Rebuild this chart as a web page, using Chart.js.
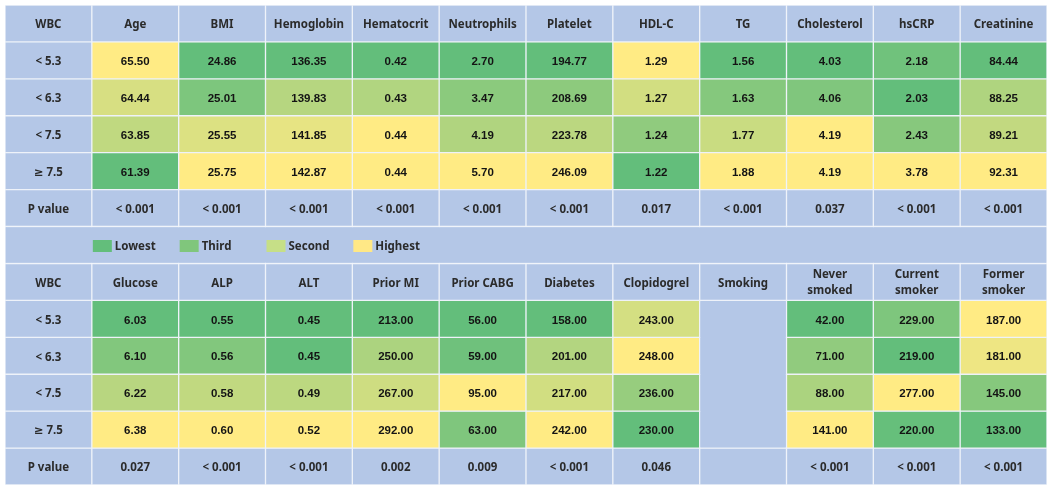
<!DOCTYPE html>
<html>
<head>
<meta charset="utf-8">
<script src="https://cdn.jsdelivr.net/npm/chart.js@4/dist/chart.umd.min.js"></script>
<style>
  html, body { margin: 0; padding: 0; background: #fff; }
  canvas { display: block; }
</style>
</head>
<body>
<canvas id="heat" width="1053" height="489"></canvas>
<script>
// WBC groups (row labels)
const groups = ['< 5.3', '< 6.3', '< 7.5', '≥ 7.5'];

// upper table
const topVars = ['Age', 'BMI', 'Hemoglobin', 'Hematocrit', 'Neutrophils', 'Platelet', 'HDL-C', 'TG', 'Cholesterol', 'hsCRP', 'Creatinine'];
const top53 = [65.50, 24.86, 136.35, 0.42, 2.70, 194.77, 1.29, 1.56, 4.03, 2.18, 84.44];
const top63 = [64.44, 25.01, 139.83, 0.43, 3.47, 208.69, 1.27, 1.63, 4.06, 2.03, 88.25];
const top75 = [63.85, 25.55, 141.85, 0.44, 4.19, 223.78, 1.24, 1.77, 4.19, 2.43, 89.21];
const topHi = [61.39, 25.75, 142.87, 0.44, 5.70, 246.09, 1.22, 1.88, 4.19, 3.78, 92.31];
const topP = ['< 0.001', '< 0.001', '< 0.001', '< 0.001', '< 0.001', '< 0.001', '0.017', '< 0.001', '0.037', '< 0.001', '< 0.001'];

// lower table (Smoking is only a group heading, no values)
const bottomVars = ['Glucose', 'ALP', 'ALT', 'Prior MI', 'Prior CABG', 'Diabetes', 'Clopidogrel', 'Smoking', ['Never', 'smoked'], ['Current', 'smoker'], ['Former', 'smoker']];
const bot53 = [6.03, 0.55, 0.45, 213, 56, 158, 243, null, 42, 229, 187];
const bot63 = [6.10, 0.56, 0.45, 250, 59, 201, 248, null, 71, 219, 181];
const bot75 = [6.22, 0.58, 0.49, 267, 95, 217, 236, null, 88, 277, 145];
const botHi = [6.38, 0.60, 0.52, 292, 63, 242, 230, null, 141, 220, 133];
const bottomP = ['0.027', '< 0.001', '< 0.001', '0.002', '0.009', '< 0.001', '0.046', '', '< 0.001', '< 0.001', '< 0.001'];

const legendNames = ['Lowest', 'Third', 'Second', 'Highest'];
const legendColors = ['#63BE7B', '#80C67C', '#C6DF87', '#FFE886'];

const BLUE = '#B4C7E7';
const LINE = '#EEF2F9';
const LOW = [99, 190, 123];
const HIGH = [255, 235, 132];

function scaleColor(v, lo, hi) {
  const t = hi === lo ? 0 : (v - lo) / (hi - lo);
  const c = LOW.map((a, i) => Math.round(a + (HIGH[i] - a) * t));
  return 'rgb(' + c.join(',') + ')';
}

function fmt(v) { return v.toFixed(2); }

// build the 13 x 12 grid of cells
const cells = [];
function headerRow(vars) {
  return [{ text: 'WBC', fill: BLUE, head: true }].concat(vars.map(v => ({ text: v, fill: BLUE, head: true })));
}
function valueRows(rows) {
  const out = rows.map((vals, g) => [{ text: groups[g], fill: BLUE, head: true }]);
  for (let c = 0; c < rows[0].length; c++) {
    const col = rows.map(r => r[c]);
    if (col[0] === null) {
      out.forEach(row => row.push({ text: '', fill: BLUE }));
      continue;
    }
    const lo = Math.min(...col), hi = Math.max(...col);
    col.forEach((v, g) => out[g].push({ text: fmt(v), fill: scaleColor(v, lo, hi) }));
  }
  return out;
}
function pRow(ps) {
  return [{ text: 'P value', fill: BLUE, head: true }].concat(ps.map(p => ({ text: p, fill: BLUE, head: true })));
}

cells.push(headerRow(topVars));
valueRows([top53, top63, top75, topHi]).forEach(r => cells.push(r));
cells.push(pRow(topP));
cells.push(new Array(12).fill(0).map(() => ({ text: '', fill: BLUE })));
cells.push(headerRow(bottomVars));
valueRows([bot53, bot63, bot75, botHi]).forEach(r => cells.push(r));
cells.push(pRow(bottomP));

const LEGEND_ROW = 6;
const SMOKING_COL = 8;

function borders(r, c) {
  const b = { top: 1, right: 1, bottom: 1, left: 1 };
  if (r === LEGEND_ROW) {
    if (c > 0) b.left = 0;
    if (c < 11) b.right = 0;
  }
  if (c === SMOKING_COL && r >= 8 && r <= 11) {
    if (r > 8) b.top = 0;
    if (r < 11) b.bottom = 0;
  }
  return b;
}

const datasets = cells.map((row, r) => ({
  data: row.map(() => 1),
  backgroundColor: row.map(cell => cell.fill),
  borderColor: LINE,
  borderWidth: ctx => borders(r, ctx.dataIndex),
  borderSkipped: false,
  stack: 'grid',
  barPercentage: 1,
  categoryPercentage: 1
}));

const HEAD_FONT = 'bold 11.5px "Noto Sans", "DejaVu Sans", sans-serif';
const NUM_FONT = 'bold 11.5px "Liberation Sans", Arial, sans-serif';

function barBox(bar) {
  const top = Math.min(bar.y, bar.base), bottom = Math.max(bar.y, bar.base);
  return { left: bar.x - bar.width / 2, right: bar.x + bar.width / 2, top, bottom };
}

const cellText = {
  id: 'cellText',
  afterDatasetsDraw(chart) {
    const ctx = chart.ctx;
    ctx.save();

    // merged cells: cover the seams between neighbouring bars
    ctx.fillStyle = BLUE;
    const lrow = chart.getDatasetMeta(LEGEND_ROW).data;
    const a = barBox(lrow[0]), b = barBox(lrow[lrow.length - 1]);
    ctx.fillRect(a.left + 1, a.top + 1, b.right - a.left - 2, a.bottom - a.top - 2);
    const s1 = barBox(chart.getDatasetMeta(8).data[SMOKING_COL]);
    const s2 = barBox(chart.getDatasetMeta(11).data[SMOKING_COL]);
    ctx.fillRect(s1.left + 1, s1.top + 1, s1.right - s1.left - 2, s2.bottom - s1.top - 2);

    ctx.textAlign = 'center';
    ctx.textBaseline = 'middle';
    cells.forEach((row, r) => {
      const meta = chart.getDatasetMeta(r);
      row.forEach((cell, c) => {
        if (!cell.text) return;
        const p = meta.data[c].getCenterPoint();
        ctx.font = cell.head ? HEAD_FONT : NUM_FONT;
        ctx.fillStyle = cell.head ? '#2b2b2b' : '#141414';
        if (Array.isArray(cell.text)) {
          ctx.fillText(cell.text[0], p.x, p.y - 7);
          ctx.fillText(cell.text[1], p.x, p.y + 9);
        } else {
          ctx.fillText(cell.text, p.x, p.y + 1.5);
        }
      });
    });

    // legend inside the merged row
    ctx.textAlign = 'left';
    ctx.font = HEAD_FONT;
    legendNames.forEach((name, i) => {
      const bar = lrow[i + 1];
      const p = bar.getCenterPoint();
      const left = bar.x - bar.width / 2 + 1;
      ctx.fillStyle = legendColors[i];
      ctx.fillRect(left, p.y - 5, 19, 12);
      ctx.fillStyle = '#2b2b2b';
      ctx.fillText(name, left + 22, p.y + 1.5);
    });
    ctx.restore();
  }
};

new Chart(document.getElementById('heat'), {
  type: 'bar',
  data: { labels: cells[0].map((_, i) => i), datasets },
  options: {
    responsive: false,
    animation: false,
    devicePixelRatio: 1,
    layout: { padding: { left: 5, right: 6, top: 5, bottom: 4 } },
    scales: {
      x: { display: false, stacked: true },
      y: { display: false, stacked: true, min: 0, max: cells.length, reverse: true }
    },
    plugins: { legend: { display: false }, tooltip: { enabled: false } }
  },
  plugins: [cellText]
});
</script>
</body>
</html>
